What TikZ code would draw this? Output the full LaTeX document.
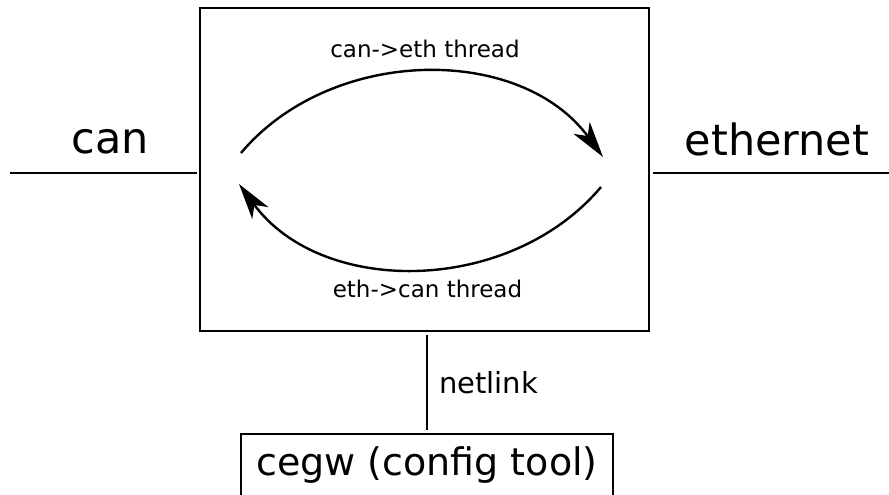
\documentclass[tikz,border=0pt]{standalone}
\usepackage{fontspec}
\setmainfont{DejaVu Sans}
\usetikzlibrary{arrows.meta}
\begin{document}
\begin{tikzpicture}[x=1pt,y=-1pt,
  wire/.style={line width=2.2pt},
  boxed/.style={draw, line width=2.2pt, inner sep=0pt},
  thr/.style={line width=2.4pt, -{Stealth[length=36pt,width=20pt,inset=10pt]}},
  big/.style={font=\fontsize{43}{50}\selectfont, anchor=base, inner sep=0pt},
  mid/.style={font=\fontsize{29}{34}\selectfont, anchor=base, inner sep=0pt},
  small/.style={font=\fontsize{23}{28}\selectfont, anchor=base, inner sep=0pt}]
\useasboundingbox (0,0) rectangle (889,495);
\clip (0,0) rectangle (889,495);
% main box
\node[boxed, minimum width=449pt, minimum height=323pt] (gw) at (424.5,169.5) {};
% config tool box (bottom cut off)
\node[boxed, minimum width=372pt, text height=41pt, text depth=31pt,
      font=\fontsize{38}{44}\selectfont, anchor=base] (cegw) at (427,475) {cegw (config tool)};
% labels
\node[big] (can) at (110,153) {can};
\node[big] (eth) at (777,155) {ethernet};
\node[small] (c2e) at (425,58) {can->eth thread};
\node[small] (e2c) at (427.5,297) {eth->can thread};
\node[mid] (nl) at (488.5,393) {netlink};
% wires
\coordinate (canL) at (10,173);
\coordinate (ethR) at (889,173);
\draw[wire, shorten >=2pt] (canL) -- (canL -| gw.west);
\draw[wire, shorten <=3pt] (ethR -| gw.east) -- (ethR);
\draw[wire, shorten <=3pt, shorten >=3pt] (cegw.north |- gw.south) -- (cegw.north);
% thread arcs
\coordinate (t1) at (241,153);
\coordinate (t2) at (603,157);
\coordinate (b1) at (601,187);
\coordinate (b2) at (239,184);
\draw[thr] (t1) .. controls (331,46) and (520,44) .. (t2);
\draw[thr] (b1) .. controls (510,295) and (322,297) .. (b2);
\end{tikzpicture}
\end{document}
